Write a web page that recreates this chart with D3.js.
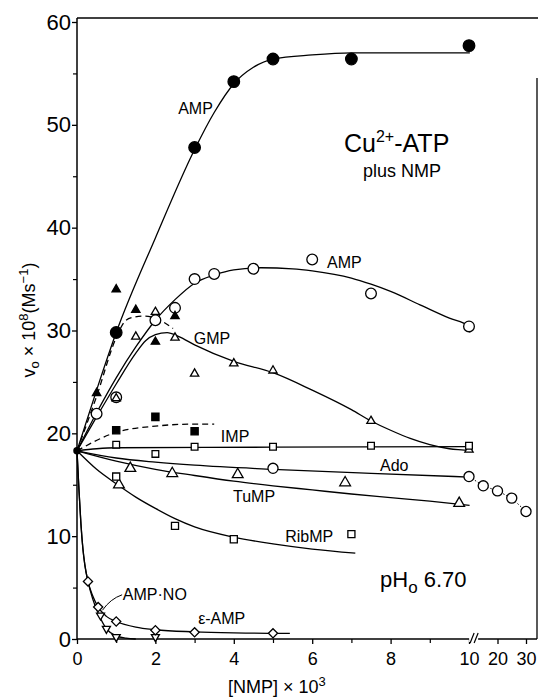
<!DOCTYPE html>
<html><head><meta charset="utf-8">
<script src="https://cdn.jsdelivr.net/npm/d3@7/dist/d3.min.js"></script>
<style>
body{margin:0;background:#fff}
svg{display:block}
text{font-family:"Liberation Sans",Arial,Helvetica,sans-serif;fill:#000}
</style></head>
<body><svg id="c" width="538" height="697"></svg>
<script>
// ---------- data ----------
const yTicks = [0, 10, 20, 30, 40, 50, 60];
const yMinor = [5, 15, 25, 35, 45, 55];
const xTicks = [0, 2, 4, 6, 8, 10, 20, 30];
const xMinor = [1, 3, 5, 7, 9];

// AMP (filled circles)
const ampX = [1, 3, 4, 5, 7, 10];
const ampY = [29.8, 47.8, 54.2, 56.4, 56.4, 57.7];
const ampFitX = [0, 0.5, 1, 2, 3, 3.5, 4, 4.5, 5, 6, 7, 8, 10.3];
const ampFitY = [18.3, 24.2, 29.8, 39.0, 47.6, 51.2, 54.0, 55.6, 56.4, 56.8, 57.0, 57.0, 57.0];
// filled triangles, dashed curve
const ftriX = [0.5, 1, 1.5, 2, 2.5];
const ftriY = [23.9, 34.0, 32.0, 28.9, 31.4];
const ftriFitX = [0, 0.5, 1, 1.25, 1.45, 1.7, 2.0, 2.45];
const ftriFitY = [18.3, 23.6, 29.3, 31.0, 31.3, 31.4, 31.2, 30.2];
// AMP (open circles)
const amp2X = [0.5, 1, 2, 2.5, 3, 3.5, 4.5, 6, 7.5, 10];
const amp2Y = [21.9, 23.5, 31.0, 32.2, 35.0, 35.5, 36.0, 36.9, 33.6, 30.4];
const amp2FitX = [0, 0.5, 1, 1.5, 2, 2.5, 3, 3.5, 4, 4.7, 5.5, 6, 7, 7.5, 8, 8.75, 9.5, 10, 10.3];
const amp2FitY = [18.3, 22.0, 25.4, 28.4, 31.0, 33.0, 34.6, 35.4, 35.9, 36.1, 36.0, 35.8, 35.1, 34.5, 33.8, 32.5, 31.2, 30.4, 29.8];
// GMP (open triangles)
const gmpX = [1, 1.5, 2, 2.5, 3, 4, 5, 7.5, 10];
const gmpY = [23.4, 29.4, 31.8, 29.3, 25.8, 26.8, 26.1, 21.2, 18.4];
const gmpFitX = [0, 0.5, 1, 1.5, 1.75, 2, 2.3, 2.6, 3, 4, 5, 6, 7, 7.5, 8, 8.5, 9, 9.5, 10, 10.3];
const gmpFitY = [18.3, 21.6, 24.8, 27.8, 29.0, 29.6, 29.8, 29.4, 28.6, 27.0, 25.9, 24.2, 22.3, 21.2, 20.3, 19.5, 18.9, 18.5, 18.3, 18.2];
// IMP (filled squares, dashed)
const impX = [1, 2, 3];
const impY = [20.3, 21.6, 20.2];
const impFitX = [0, 1, 2, 3, 3.5];
const impFitY = [18.3, 20.1, 20.7, 20.9, 20.9];
// open squares, flat line
const sqX = [1, 2, 3, 5, 7.5, 10];
const sqY = [18.9, 18.0, 18.7, 18.7, 18.8, 18.8];
const sqFitX = [0, 0.5, 1, 5, 10.3];
const sqFitY = [18.3, 18.5, 18.6, 18.65, 18.7];
// Ado (open circles)
const adoX = [5, 10, 15, 20, 25, 30];
const adoY = [16.6, 15.8, 14.9, 14.4, 13.7, 12.4];
const adoFitX = [0, 1, 2, 3, 5, 7.5, 10];
const adoFitY = [18.3, 17.6, 17.2, 16.9, 16.5, 16.1, 15.75];
// TuMP (open triangles)
const tumpX = [1.07, 1.36, 2.43, 4.1, 6.84, 9.75];
const tumpY = [15.0, 16.6, 16.1, 16.0, 15.2, 13.2];
const tumpFitX = [0, 1, 2, 3, 4, 5, 6, 7, 8, 9, 10.2];
const tumpFitY = [18.3, 17.3, 16.5, 15.9, 15.35, 14.9, 14.5, 14.1, 13.75, 13.4, 13.0];
// RibMP (open squares)
const ribX = [1, 2.5, 4, 7];
const ribY = [15.8, 11.0, 9.7, 10.2];
const ribFitX = [0, 0.5, 1, 1.5, 2, 2.5, 3, 4, 5, 6, 7.1];
const ribFitY = [18.3, 16.5, 15.1, 13.8, 12.7, 11.7, 10.9, 9.9, 9.25, 8.75, 8.35];
// epsilon-AMP (diamonds)
const eampX = [0.28, 0.54, 1, 2, 3, 5];
const eampY = [5.6, 3.1, 1.7, 0.85, 0.65, 0.55];
const eampFitX = [0, 0.05, 0.1, 0.15, 0.2, 0.28, 0.4, 0.54, 0.75, 1, 1.5, 2, 3, 4, 5, 5.43];
const eampFitY = [18.3, 14.5, 11.2, 8.8, 7.2, 5.6, 4.2, 3.1, 2.2, 1.7, 1.15, 0.9, 0.7, 0.6, 0.55, 0.55];
// AMP·NO (inverted triangles)
const amponoX = [0.6, 0.75, 1, 2];
const amponoY = [2.3, 1.0, 0.2, 0.2];
const amponoFitX = [0, 0.05, 0.1, 0.15, 0.2, 0.28, 0.4, 0.54, 0.75, 1, 1.25, 1.5];
const amponoFitY = [18.3, 14.5, 11.2, 8.8, 7.2, 5.6, 3.9, 2.5, 1.0, 0.3, 0.08, 0.0];

// series labels: text, x, y (data units)
const labelText = ["AMP", "AMP", "GMP", "IMP", "Ado", "TuMP", "RibMP", "AMP·NO", "ε-AMP"];
const labelX = [2.58, 6.38, 2.98, 3.67, 7.73, 3.98, 5.31, 1.17, 3.09];
const labelY = [51.1, 36.1, 28.7, 19.2, 16.3, 13.3, 9.4, 3.8, 1.46];

// ---------- drawing ----------
const svg = d3.select("#c");
const x = d3.scaleLinear().domain([0, 10, 30]).range([77, 469, 526]);
const y = d3.scaleLinear().domain([0, 60]).range([639, 22]);
const zip = (xs, ys) => xs.map((v, i) => [v, ys[i]]);

// frame
const g = svg.append("g");
g.append("line").attr("x1", 77).attr("x2", 538).attr("y1", 18).attr("y2", 18).attr("stroke", "#000").attr("stroke-width", 1.3);
g.append("line").attr("x1", 537).attr("x2", 537).attr("y1", 78).attr("y2", 639).attr("stroke", "#000").attr("stroke-width", 1.3);
g.append("line").attr("x1", 77).attr("x2", 77).attr("y1", 18).attr("y2", 639).attr("stroke", "#000").attr("stroke-width", 1.5);
g.append("line").attr("x1", 77).attr("x2", 537).attr("y1", 639).attr("y2", 639).attr("stroke", "#000").attr("stroke-width", 1.5);

// y axis
const ya = svg.append("g").attr("transform", "translate(77,0)")
  .call(d3.axisLeft(y).tickValues(yTicks).tickSize(5).tickPadding(1).tickFormat(d3.format("d")));
ya.select(".domain").remove();
ya.selectAll("text").attr("font-size", 22).attr("font-family", "Liberation Sans, Arial, sans-serif");
ya.selectAll("line").attr("stroke-width", 1.3);
svg.append("g").attr("transform", "translate(77,0)")
  .call(d3.axisLeft(y).tickValues(yMinor).tickSize(4).tickFormat(""))
  .call(s => s.select(".domain").remove())
  .selectAll("line").attr("stroke-width", 1.2);

// x axis
const xa = svg.append("g").attr("transform", "translate(0,639)")
  .call(d3.axisBottom(x).tickValues(xTicks).tickSize(5).tickPadding(8).tickFormat(d3.format("d")));
xa.select(".domain").remove();
xa.selectAll("text").attr("font-size", 18).attr("font-family", "Liberation Sans, Arial, sans-serif");
xa.selectAll("line").attr("stroke-width", 1.3);
svg.append("g").attr("transform", "translate(0,639)")
  .call(d3.axisBottom(x).tickValues(xMinor).tickSize(4).tickFormat(""))
  .call(s => s.select(".domain").remove())
  .selectAll("line").attr("stroke-width", 1.2);

// axis break
const bx = (x(10) + x(15)) / 2 - 4;
svg.append("rect").attr("x", bx - 3).attr("y", 636).attr("width", 9).attr("height", 6).attr("fill", "#fff");
[0, 4].forEach(o => {
  svg.append("line").attr("x1", bx - 2 + o).attr("y1", 643).attr("x2", bx + 2 + o).attr("y2", 633)
    .attr("stroke", "#000").attr("stroke-width", 1.2);
});

// curves
const line = d3.line().x(d => x(d[0])).y(d => y(d[1])).curve(d3.curveMonotoneX);
function curve(xs, ys, dash) {
  svg.append("path").attr("d", line(zip(xs, ys))).attr("fill", "none")
    .attr("stroke", "#000").attr("stroke-width", 1.3)
    .attr("stroke-dasharray", dash || null);
}
curve(ampFitX, ampFitY);
curve(ftriFitX, ftriFitY, "6,4");
curve(amp2FitX, amp2FitY);
curve(gmpFitX, gmpFitY);
curve(impFitX, impFitY, "6,4");
curve(sqFitX, sqFitY);
curve(adoFitX, adoFitY);
curve(tumpFitX, tumpFitY);
curve(ribFitX, ribFitY);
curve(eampFitX, eampFitY);
curve(amponoFitX, amponoFitY);
// Ado continuation beyond break
svg.append("path").attr("d", d3.line().x(d => x(d[0])).y(d => y(d[1]))(zip(adoX.slice(1), adoY.slice(1))))
  .attr("fill", "none").attr("stroke", "#000").attr("stroke-width", 1).attr("stroke-dasharray", "1.5,2");

// markers
function sym(xs, ys, type, size, filled, rot) {
  svg.append("g").selectAll("path").data(zip(xs, ys)).join("path")
    .attr("d", d3.symbol().type(type).size(size))
    .attr("transform", d => `translate(${x(d[0])},${y(d[1])}) rotate(${rot || 0})`)
    .attr("fill", filled ? "#000" : "#fff")
    .attr("stroke", "#000").attr("stroke-width", 1.3);
}
// origin blob
sym([0], [18.3], d3.symbolCircle, 30, true);
sym(ampX, ampY, d3.symbolCircle, 105, true);
sym(amp2X, amp2Y, d3.symbolCircle, 90, false);
sym(adoX, adoY, d3.symbolCircle, 80, false);
sym(ftriX, ftriY, d3.symbolTriangle, 30, true);
sym(gmpX, gmpY, d3.symbolTriangle, 30, false);
sym(tumpX, tumpY, d3.symbolTriangle, 50, false);
sym(impX, impY, d3.symbolSquare, 52, true);
sym(sqX, sqY, d3.symbolSquare, 45, false);
sym(ribX, ribY, d3.symbolSquare, 50, false);
sym(amponoX, amponoY, d3.symbolTriangle, 28, false, 180);
sym(eampX, eampY, d3.symbolSquare, 42, false, 45);

// series labels
svg.append("g").selectAll("text").data(labelText).join("text")
  .attr("x", (d, i) => x(labelX[i])).attr("y", (d, i) => y(labelY[i]))
  .attr("font-size", 16).text(d => d);
// leader for AMP·NO
svg.append("path")
  .attr("d", `M${x(1.15)},${y(4.3)} Q${x(0.85)},${y(3.9)} ${x(0.65)},${y(2.8)}`)
  .attr("fill", "none").attr("stroke", "#000").attr("stroke-width", 1);

// title block
const t1 = svg.append("text").attr("x", 344).attr("y", 152).attr("font-size", 25);
t1.append("tspan").text("Cu");
t1.append("tspan").attr("font-size", 16).attr("dy", -10).text("2+");
t1.append("tspan").attr("dy", 10).text("-ATP");
svg.append("text").attr("x", 363).attr("y", 177).attr("font-size", 18).text("plus NMP");

const t2 = svg.append("text").attr("x", 380).attr("y", 587).attr("font-size", 22);
t2.append("tspan").text("pH");
t2.append("tspan").attr("font-size", 17).attr("dy", 6).text("o");
t2.append("tspan").attr("dy", -6).text(" 6.70");

// axis titles
const yl = svg.append("text").attr("transform", "translate(35,320) rotate(-90)")
  .attr("text-anchor", "middle").attr("font-size", 18);
yl.append("tspan").text("v");
yl.append("tspan").attr("font-size", 13).attr("dy", 4).text("o");
yl.append("tspan").attr("dy", -4).text(" × 10");
yl.append("tspan").attr("font-size", 13).attr("dy", -7).text("8");
yl.append("tspan").attr("dy", 7).text("(Ms");
yl.append("tspan").attr("font-size", 13).attr("dy", -7).text("−1");
yl.append("tspan").attr("dy", 7).text(")");

const xl = svg.append("text").attr("x", 228).attr("y", 693).attr("font-size", 18);
xl.append("tspan").text("[NMP] × 10");
xl.append("tspan").attr("font-size", 13).attr("dy", -7).text("3");
</script></body></html>
